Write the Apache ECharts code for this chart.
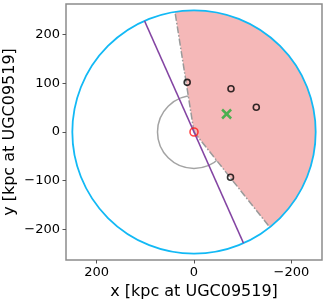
<!DOCTYPE html>
<html>
<head>
<meta charset="utf-8">
<script src="https://cdn.jsdelivr.net/npm/echarts@6/dist/echarts.min.js"></script>
<style>
html,body{margin:0;padding:0;background:#fff;}
#c{width:327px;height:302px;}
</style>
</head>
<body>
<div id="c"></div>
<script>
// ---- data ----
const axisLimit = 263;
const xTicks = [-200, 0, 200];
const yTicks = [-200, -100, 0, 100, 200];
const outerRadius = 250;
const innerRadius = 75;
const wedgeAngles = [81, 231.5];      // degrees, data space
const purpleAngle = 66;                // degrees, data space
const centerX = [0];
const centerY = [0];
const galaxyX = [14, -76, -128, -75];
const galaxyY = [102, 89, 51, -93];
const crossX = [-67];
const crossY = [37];

const FONT = 'DejaVu Sans';
const chart = echarts.init(document.getElementById('c'), null, {renderer: 'canvas'});

function rad(d){ return d * Math.PI / 180; }

function circleSeries(r, color, lw, z){
  return {
    type: 'custom', z: z, silent: true,
    data: [[0, 0]],
    renderItem: function(params, api){
      const c = api.coord([api.value(0), api.value(1)]);
      const s = api.size([r, r]);
      return {type: 'circle', shape: {cx: c[0], cy: c[1], r: s[0]},
        style: {fill: 'none', stroke: color, lineWidth: lw}};
    }
  };
}

const wedgeSeries = {
  type: 'custom', z: 3, silent: true,
  data: [[0, 0]],
  renderItem: function(params, api){
    const pts = [api.coord([0, 0])];
    const n = 120;
    for (let i = 0; i <= n; i++) {
      const a = rad(wedgeAngles[0] + (wedgeAngles[1] - wedgeAngles[0]) * i / n);
      pts.push(api.coord([outerRadius * Math.cos(a), outerRadius * Math.sin(a)]));
    }
    const e1 = api.coord([outerRadius * Math.cos(rad(wedgeAngles[0])), outerRadius * Math.sin(rad(wedgeAngles[0]))]);
    const e2 = api.coord([outerRadius * Math.cos(rad(wedgeAngles[1])), outerRadius * Math.sin(rad(wedgeAngles[1]))]);
    const o = pts[0];
    return {type: 'group', children: [
      {type: 'polygon', shape: {points: pts}, style: {fill: '#f5b8b8', stroke: 'none'}},
      {type: 'line', shape: {x1: o[0], y1: o[1], x2: e1[0], y2: e1[1]},
        style: {stroke: '#9a9a9a', lineWidth: 1.5, lineDash: [7, 2, 1.5, 2]}},
      {type: 'line', shape: {x1: o[0], y1: o[1], x2: e2[0], y2: e2[1]},
        style: {stroke: '#9a9a9a', lineWidth: 1.5, lineDash: [7, 2, 1.5, 2]}}
    ]};
  }
};

const purpleSeries = {
  type: 'custom', z: 5, silent: true,
  data: [[0, 0]],
  renderItem: function(params, api){
    const a = rad(purpleAngle);
    const p1 = api.coord([outerRadius * Math.cos(a), outerRadius * Math.sin(a)]);
    const p2 = api.coord([-outerRadius * Math.cos(a), -outerRadius * Math.sin(a)]);
    return {type: 'line', shape: {x1: p1[0], y1: p1[1], x2: p2[0], y2: p2[1]},
      style: {stroke: '#8445a3', lineWidth: 1.5}};
  }
};

const crossSeries = {
  type: 'custom', z: 7, silent: true,
  data: crossX.map((x, i) => [x, crossY[i]]),
  renderItem: function(params, api){
    const c = api.coord([api.value(0), api.value(1)]);
    const h = 4.5;
    return {type: 'group', children: [
      {type: 'line', shape: {x1: c[0]-h, y1: c[1]-h, x2: c[0]+h, y2: c[1]+h}, style: {stroke: '#4caf50', lineWidth: 2.5}},
      {type: 'line', shape: {x1: c[0]-h, y1: c[1]+h, x2: c[0]+h, y2: c[1]-h}, style: {stroke: '#4caf50', lineWidth: 2.5}}
    ]};
  }
};

const option = {
  animation: false,
  backgroundColor: '#fff',
  grid: {left: 66, top: 4, width: 256, height: 256, show: true, borderColor: '#8c8c8c', borderWidth: 1.5,
    backgroundColor: 'transparent', containLabel: false, outerBoundsMode: 'none'},
  xAxis: {
    type: 'value', inverse: true, min: -axisLimit, max: axisLimit,
    axisLine: {show: false, onZero: false},
    splitLine: {show: false},
    axisTick: {show: true, length: 3.5, lineStyle: {color: '#555'}, customValues: xTicks},
    axisLabel: {fontFamily: FONT, fontSize: 13, color: '#000', margin: 6, customValues: xTicks,
      formatter: v => (v < 0 ? '\u2212' + (-v) : String(v))},
    name: 'x [kpc at UGC09519]', nameLocation: 'middle', nameGap: 21,
    nameTextStyle: {fontFamily: FONT, fontSize: 16, color: '#000'}
  },
  yAxis: {
    type: 'value', min: -axisLimit, max: axisLimit,
    axisLine: {show: false, onZero: false},
    splitLine: {show: false},
    axisTick: {show: true, length: 3.5, lineStyle: {color: '#555'}, customValues: yTicks},
    axisLabel: {fontFamily: FONT, fontSize: 13, color: '#000', margin: 6, customValues: yTicks,
      formatter: v => (v < 0 ? '\u2212' + (-v) : String(v))},
    name: 'y [kpc at UGC09519]', nameLocation: 'middle', nameGap: 48, nameRotate: 90,
    nameMoveOverlap: false,
    nameTextStyle: {fontFamily: FONT, fontSize: 16, color: '#000'}
  },
  series: [
    circleSeries(innerRadius, '#a3a3a3', 1.5, 2),
    wedgeSeries,
    circleSeries(outerRadius, '#12b9f5', 1.8, 4),
    purpleSeries,
    {
      type: 'scatter', z: 6, silent: true,
      data: galaxyX.map((x, i) => [x, galaxyY[i]]),
      symbol: 'circle', symbolSize: 6,
      itemStyle: {color: 'rgba(0,0,0,0)', borderColor: '#000', borderWidth: 1.6}
    },
    crossSeries,
    {
      type: 'scatter', z: 8, silent: true,
      data: centerX.map((x, i) => [x, centerY[i]]),
      symbol: 'circle', symbolSize: 8,
      itemStyle: {color: 'rgba(0,0,0,0)', borderColor: '#ff1a1a', borderWidth: 1.6}
    }
  ]
};
chart.setOption(option);
</script>
</body>
</html>
